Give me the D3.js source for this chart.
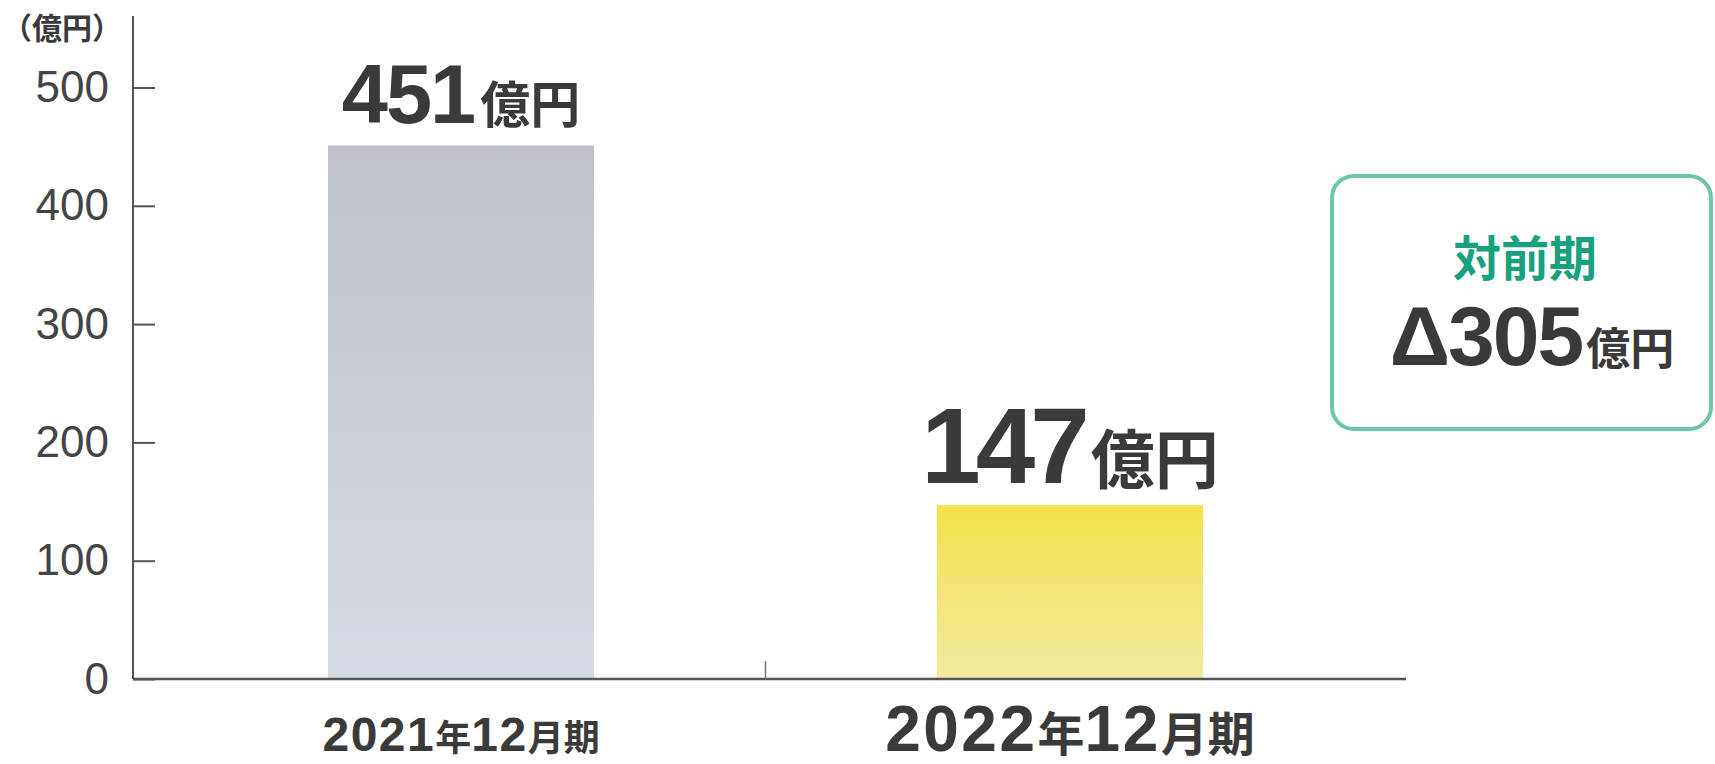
<!DOCTYPE html>
<html>
<head>
<meta charset="utf-8">
<script src="https://cdn.jsdelivr.net/npm/d3@7"></script>
<style>
  body { margin: 0; background: #fff; }
  svg { display: block; }
  text { font-family: "Liberation Sans", "Noto Sans CJK JP", sans-serif; }
</style>
</head>
<body>
<svg class="profit-chart"></svg>
<script>
var categories = ['2021年12月期', '2022年12月期'];
var values = [451, 147];
var yTicks = [0, 100, 200, 300, 400, 500];
var unitLabel = '億円';
var axisUnit = '（億円）';
var changeTitle = '対前期';
var changeValue = 305;

// sizes per bar (the second period is drawn larger)
var labelStyle = [
	{ num: 83, unit: 50, cat: 48, catSmall: 36, spacing: -2, catSpacing: 1.5 },
	{ num: 107, unit: 64, cat: 64, catSmall: 47, spacing: -5, catSpacing: 2.5 }
];

var W = 1715, H = 764;
var x0 = 133, xEnd = 1406, baseY = 679;

var svg = d3.select('.profit-chart')
	.attr('width', W)
	.attr('height', H);

var defs = svg.append('defs');
var grads = [['#bfc3c9', '#d6dae2'], ['#f3e24a', '#f2e9a0']];
grads.forEach(function(g, i) {
	var lg = defs.append('linearGradient')
		.attr('id', 'bar' + i)
		.attr('x1', 0).attr('y1', 0).attr('x2', 0).attr('y2', 1);
	lg.append('stop').attr('offset', '0%').attr('stop-color', g[0]);
	lg.append('stop').attr('offset', '100%').attr('stop-color', g[1]);
});

var x = d3.scaleBand()
	.domain(categories)
	.range([328, 1203])
	.paddingInner(0.563)
	.paddingOuter(0);

var y = d3.scaleLinear()
	.domain([0, 500])
	.range([baseY, 87.5]);

// bars
svg.selectAll('rect.bar')
	.data(values)
	.enter().append('rect')
	.attr('class', 'bar')
	.attr('x', function(d, i) { return x(categories[i]) })
	.attr('width', x.bandwidth())
	.attr('y', function(d) { return y(d) })
	.attr('height', function(d) { return baseY - y(d) })
	.attr('fill', function(d, i) { return 'url(#bar' + i + ')' });

// y axis
var yAxis = svg.append('g')
	.attr('transform', 'translate(' + x0 + ',0)')
	.call(d3.axisLeft(y).tickValues(yTicks).tickSizeInner(-22).tickSizeOuter(0).tickPadding(24));
yAxis.select('.domain').remove();
yAxis.selectAll('.tick line').attr('stroke', '#555').attr('stroke-width', 2);
yAxis.selectAll('.tick text')
	.attr('fill', '#444')
	.style('font-size', '44px')
	.style('font-family', '"Liberation Sans", sans-serif');

svg.append('line')
	.attr('x1', x0).attr('x2', x0)
	.attr('y1', 16).attr('y2', baseY)
	.attr('stroke', '#555').attr('stroke-width', 2);

svg.append('line')
	.attr('x1', x0).attr('x2', xEnd)
	.attr('y1', baseY).attr('y2', baseY)
	.attr('stroke', '#555').attr('stroke-width', 2.5);

// tick between the two periods
var midX = (x(categories[0]) + x.bandwidth() + x(categories[1])) / 2;
svg.append('line')
	.attr('x1', midX).attr('x2', midX)
	.attr('y1', baseY - 18).attr('y2', baseY)
	.attr('stroke', '#777').attr('stroke-width', 1.5);

svg.append('text')
	.attr('x', 2)
	.attr('y', 39)
	.attr('text-anchor', 'start')
	.attr('fill', '#3a3a3a')
	.style('font-size', '30px')
	.style('font-weight', 'bold')
	.style('font-family', '"Noto Sans CJK JP", sans-serif')
	.text(axisUnit);

// value labels
var vl = svg.selectAll('text.value')
	.data(values)
	.enter().append('text')
	.attr('class', 'value')
	.attr('x', function(d, i) { return x(categories[i]) + x.bandwidth() / 2 })
	.attr('y', function(d) { return y(d) - 22 })
	.attr('text-anchor', 'middle')
	.attr('fill', '#3a3a3a')
	.style('font-weight', 'bold');
vl.append('tspan')
	.style('font-size', function(d, i) { return labelStyle[i].num + 'px' })
	.style('letter-spacing', function(d, i) { return labelStyle[i].spacing + 'px' })
	.text(function(d) { return d });
vl.append('tspan')
	.attr('dx', 6)
	.style('font-size', function(d, i) { return labelStyle[i].unit + 'px' })
	.style('font-family', '"Noto Sans CJK JP", sans-serif')
	.text(unitLabel);

// category labels: digits large, kanji small
var cl = svg.selectAll('text.cat')
	.data(categories)
	.enter().append('text')
	.attr('class', 'cat')
	.attr('x', function(d) { return x(d) + x.bandwidth() / 2 })
	.attr('y', 751)
	.attr('text-anchor', 'middle')
	.attr('fill', '#3a3a3a')
	.style('font-weight', 'bold');
cl.each(function(d, i) {
	var t = d3.select(this);
	d.match(/\d+|\D+/g).forEach(function(part) {
		var isNum = /\d/.test(part);
		t.append('tspan')
			.style('font-size', (isNum ? labelStyle[i].cat : labelStyle[i].catSmall) + 'px')
			.style('letter-spacing', (isNum ? labelStyle[i].catSpacing : 0) + 'px')
			.style('font-family', isNum ? '"Liberation Sans", sans-serif' : '"Noto Sans CJK JP", sans-serif')
			.text(part);
	});
});

// year-on-year box
svg.append('rect')
	.attr('x', 1332).attr('y', 176)
	.attr('width', 379).attr('height', 253)
	.attr('rx', 22)
	.attr('fill', '#fff')
	.attr('stroke', '#6cc6a9')
	.attr('stroke-width', 4);

svg.append('text')
	.attr('x', 1525).attr('y', 276)
	.attr('text-anchor', 'middle')
	.attr('fill', '#18a07f')
	.style('font-size', '48px')
	.style('font-weight', 'bold')
	.style('font-family', '"Noto Sans CJK JP", sans-serif')
	.text(changeTitle);

var ct = svg.append('text')
	.attr('x', 1532).attr('y', 365)
	.attr('text-anchor', 'middle')
	.attr('fill', '#3a3a3a')
	.style('font-weight', 'bold');
ct.append('tspan')
	.style('font-size', '84px')
	.style('letter-spacing', '-2px')
	.text('Δ' + changeValue);
ct.append('tspan')
	.attr('dx', 4)
	.style('font-size', '44px')
	.style('font-family', '"Noto Sans CJK JP", sans-serif')
	.text(unitLabel);
</script>
</body>
</html>
